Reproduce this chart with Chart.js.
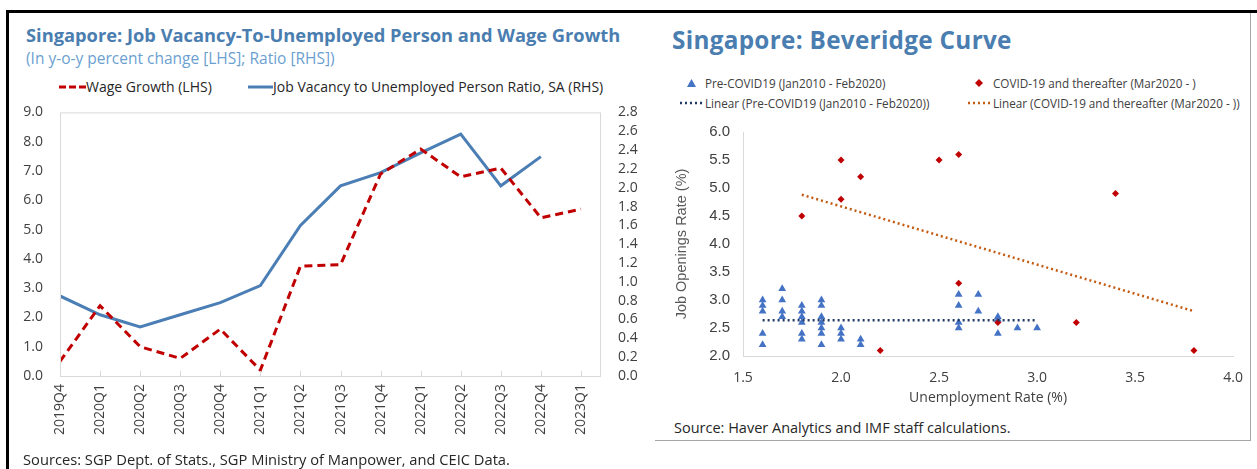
<!DOCTYPE html>
<html>
<head>
<meta charset="utf-8">
<script src="https://cdn.jsdelivr.net/npm/chart.js@4.4.1/dist/chart.umd.min.js"></script>
<style>
  html, body { margin: 0; padding: 0; background: #fff; }
  #page { position: relative; width: 1257px; height: 469px; overflow: hidden; font-family: "Open Sans", sans-serif; color: #404040; }
  .abs { position: absolute; white-space: nowrap; }
  .title { font-weight: 700; color: #4a7db0; }
  .sub { color: #6b9fd1; font-size: 15.5px; }
  .leg { font-size: 14px; line-height: 18px; color: #262626; }
  .leg2 { font-size: 11.7px; line-height: 14px; color: #404040; }
  .src { font-size: 14.7px; line-height: 18px; color: #262626; }
  .frame { position: absolute; background: #000; }
</style>
</head>
<body>
<div id="page">
  <!-- outer frame lines -->
  <div class="frame" style="left:6px; top:10px; width:1251px; height:3px;"></div>
  <div class="frame" style="left:6px; top:10px; width:3px; height:459px;"></div>
  <div class="frame" style="left:1250px; top:13px; width:1px; height:428px; background:#a6a6a6;"></div>
  <div class="frame" style="left:655px; top:440px; width:596px; height:1px; background:#a6a6a6;"></div>

  <!-- left panel text -->
  <div class="abs title" style="left:26px; top:22px; font-size:18.3px; line-height:26px;">Singapore: Job Vacancy-To-Unemployed Person and Wage Growth</div>
  <div class="abs sub" style="left:26px; top:47px; line-height:22px;">(In y-o-y percent change [LHS]; Ratio [RHS])</div>

  <svg class="abs" style="left:59px; top:85px;" width="28" height="4"><line x1="0" y1="2" x2="28" y2="2" stroke="#c00000" stroke-width="3" stroke-dasharray="7 3"/></svg>
  <div class="abs leg" style="left:86px; top:78px;">Wage Growth (LHS)</div>
  <svg class="abs" style="left:248px; top:85px;" width="25" height="4"><line x1="0" y1="2" x2="25" y2="2" stroke="#4a7eb4" stroke-width="3"/></svg>
  <div class="abs leg" style="left:273px; top:78px;">Job Vacancy to Unemployed Person Ratio, SA (RHS)</div>

  <div class="abs" style="left:0; top:87px; width:650px; height:364px;"><canvas id="left"></canvas></div>
  <div class="abs src" style="left:23px; top:450px;">Sources: SGP Dept. of Stats., SGP Ministry of Manpower, and CEIC Data.</div>

  <!-- right panel text -->
  <div class="abs title" style="left:672px; top:23px; font-size:24.3px; line-height:34px; letter-spacing:0.3px;">Singapore: Beveridge Curve</div>

  <svg class="abs" style="left:687px; top:79px;" width="9" height="8"><polygon points="4.5,0 9,8 0,8" fill="#4472c4"/></svg>
  <div class="abs leg2" style="left:705px; top:76px;">Pre-COVID19 (Jan2010 - Feb2020)</div>
  <svg class="abs" style="left:975px; top:79px;" width="8" height="8"><polygon points="4,0 8,4 4,8 0,4" fill="#c00000"/></svg>
  <div class="abs leg2" style="left:993px; top:76px;">COVID-19 and thereafter (Mar2020 - )</div>
  <svg class="abs" style="left:679px; top:101px;" width="25" height="4"><line x1="1" y1="2" x2="25" y2="2" stroke="#1f3864" stroke-width="2.5" stroke-dasharray="2 3"/></svg>
  <div class="abs leg2" style="left:705px; top:96px;">Linear (Pre-COVID19 (Jan2010 - Feb2020))</div>
  <svg class="abs" style="left:967px; top:101px;" width="25" height="4"><line x1="1" y1="2" x2="25" y2="2" stroke="#c55a11" stroke-width="2.5" stroke-dasharray="2 3"/></svg>
  <div class="abs leg2" style="left:993px; top:96px;">Linear (COVID-19 and thereafter (Mar2020 - ))</div>

  <div class="abs" style="left:650px; top:110px; width:607px; height:306px;"><canvas id="right"></canvas></div>
  <div class="abs src" style="left:674px; top:419px; font-size:14.5px;">Source: Haver Analytics and IMF staff calculations.</div>
</div>

<script>
// ---------- data: left chart (quarterly) ----------
const periods = ["2019Q4", "2020Q1", "2020Q2", "2020Q3", "2020Q4", "2021Q1", "2021Q2",
  "2021Q3", "2021Q4", "2022Q1", "2022Q2", "2022Q3", "2022Q4", "2023Q1"];
// wage growth, y-o-y % (LHS)
const wageGrowth = [0.5, 2.4, 1.0, 0.6, 1.6, 0.2, 3.75, 3.8, 6.9, 7.75, 6.8, 7.1, 5.4, 5.7];
// job vacancy to unemployed person ratio, SA (RHS) — no 2023Q1 value
const vacancyRatio = [0.85, 0.65, 0.52, 0.65, 0.78, 0.96, 1.6, 2.02, 2.16, 2.37, 2.57, 2.02, 2.33, null];
const lhsTicks = [0, 1, 2, 3, 4, 5, 6, 7, 8, 9];
const rhsTicks = [0, 0.2, 0.4, 0.6, 0.8, 1.0, 1.2, 1.4, 1.6, 1.8, 2.0, 2.2, 2.4, 2.6, 2.8];

// ---------- data: right chart (Beveridge curve) ----------
// unemployment rate (x) / job openings rate (y)
const preX = [1.6, 1.6, 1.6, 1.6, 1.6, 1.7, 1.7, 1.7, 1.7, 1.8, 1.8, 1.8, 1.8, 1.8, 1.8,
  1.9, 1.9, 1.9, 1.9, 1.9, 1.9, 1.9, 2.0, 2.0, 2.0, 2.1, 2.1, 2.6, 2.6, 2.6, 2.6, 2.7, 2.7,
  2.8, 2.8, 2.8, 2.9, 3.0];
const preY = [3.0, 2.9, 2.8, 2.4, 2.2, 3.2, 3.0, 2.8, 2.7, 2.9, 2.8, 2.7, 2.6, 2.4, 2.3,
  3.0, 2.9, 2.7, 2.6, 2.5, 2.4, 2.2, 2.5, 2.4, 2.3, 2.3, 2.2, 3.1, 2.9, 2.6, 2.5, 3.1, 2.8,
  2.7, 2.65, 2.4, 2.5, 2.5];
const covidX = [1.8, 2.0, 2.0, 2.1, 2.2, 2.5, 2.6, 2.6, 2.8, 3.2, 3.4, 3.8];
const covidY = [4.5, 5.5, 4.8, 5.2, 2.1, 5.5, 5.6, 3.3, 2.6, 2.6, 4.9, 2.1];
// linear trend end points as drawn in the report
const trendPreX = [1.6, 3.0];
const trendPreY = [2.64, 2.64];
const trendCovidX = [1.8, 3.8];
const trendCovidY = [4.88, 2.8];
const uxTicks = [1.5, 2.0, 2.5, 3.0, 3.5, 4.0];
const joTicks = [2.0, 2.5, 3.0, 3.5, 4.0, 4.5, 5.0, 5.5, 6.0];

// ---------- helpers ----------
const pts = (xs, ys) => xs.map((x, i) => ({ x: x, y: ys[i] }));
const fixedTicks = (list) => (scale) => { scale.ticks = list.map((v) => ({ value: v })); };
const TXT = "#404040";
const noGrid = { display: false, drawTicks: false };

// light grey box round the plot + small inward ticks on the category axis
const plotBox = {
  id: "plotBox",
  afterDraw(chart) {
    const { ctx, chartArea: a } = chart;
    ctx.save();
    ctx.strokeStyle = "#d9d9d9";
    ctx.lineWidth = 1;
    ctx.strokeRect(a.left + 0.5, a.top + 0.5, a.right - a.left - 1, a.bottom - a.top);
    const xs = chart.scales.x;
    ctx.beginPath();
    periods.forEach((_, i) => {
      const px = Math.round(xs.getPixelForValue(i)) + 0.5;
      ctx.moveTo(px, a.bottom - 5);
      ctx.lineTo(px, a.bottom);
    });
    ctx.stroke();
    ctx.restore();
  },
};

Chart.defaults.font.family = "'Open Sans', sans-serif";
Chart.defaults.animation = false;

// ---------- left: wage growth vs vacancy ratio ----------
new Chart(document.getElementById("left"), {
  type: "line",
  data: {
    datasets: [
      {
        label: "Wage Growth (LHS)",
        data: pts(periods.map((_, i) => i), wageGrowth),
        yAxisID: "yL",
        borderColor: "#c00000",
        borderWidth: 3,
        borderDash: [8, 5],
        pointRadius: 0,
      },
      {
        label: "Job Vacancy to Unemployed Person Ratio, SA (RHS)",
        data: pts(periods.map((_, i) => i), vacancyRatio),
        yAxisID: "yR",
        borderColor: "#4a7eb4",
        borderWidth: 3,
        pointRadius: 0,
      },
    ],
  },
  options: {
    responsive: true,
    maintainAspectRatio: false,
    layout: { padding: { top: 10 } },
    plugins: { legend: { display: false }, tooltip: { enabled: false } },
    scales: {
      x: {
        type: "linear",
        min: 0,
        max: 13.5,
        afterBuildTicks: fixedTicks(periods.map((_, i) => i)),
        afterFit: (s) => { s.height = 75; },
        grid: noGrid,
        border: { display: false },
        ticks: {
          autoSkip: false,
          maxRotation: 90,
          minRotation: 90,
          padding: 8,
          color: TXT,
          font: { size: 14 },
          callback: (v) => periods[v],
        },
      },
      yL: {
        position: "left",
        min: 0,
        max: 9,
        afterBuildTicks: fixedTicks(lhsTicks),
        afterFit: (s) => { s.width = 60; },
        grid: noGrid,
        border: { display: false },
        ticks: { padding: 17, color: TXT, font: { size: 14 }, callback: (v) => v.toFixed(1) },
      },
      yR: {
        position: "right",
        min: 0,
        max: 2.8,
        afterBuildTicks: fixedTicks(rhsTicks),
        afterFit: (s) => { s.width = 49; },
        grid: noGrid,
        border: { display: false },
        ticks: { autoSkip: false, padding: 17, color: TXT, font: { size: 14 }, callback: (v) => v.toFixed(1) },
      },
    },
  },
  plugins: [plotBox],
});

// ---------- right: Beveridge curve ----------
new Chart(document.getElementById("right"), {
  type: "scatter",
  data: {
    datasets: [
      // trend lines first so they sit on top of the markers
      {
        type: "line",
        label: "Linear (Pre-COVID19 (Jan2010 - Feb2020))",
        data: pts(trendPreX, trendPreY),
        borderColor: "#1f3864",
        borderWidth: 2.5,
        borderDash: [2, 3],
        pointRadius: 0,
      },
      {
        type: "line",
        label: "Linear (COVID-19 and thereafter (Mar2020 - ))",
        data: pts(trendCovidX, trendCovidY),
        borderColor: "#c55a11",
        borderWidth: 2.5,
        borderDash: [2, 3],
        pointRadius: 0,
      },
      {
        label: "COVID-19 and thereafter (Mar2020 - )",
        data: pts(covidX, covidY),
        pointStyle: "rectRot",
        pointRadius: 3.5,
        backgroundColor: "#c00000",
        borderColor: "#c00000",
        borderWidth: 0,
      },
      {
        label: "Pre-COVID19 (Jan2010 - Feb2020)",
        data: pts(preX, preY),
        pointStyle: "triangle",
        pointRadius: 4.5,
        backgroundColor: "#4472c4",
        borderColor: "#4472c4",
        borderWidth: 0,
      },
    ],
  },
  options: {
    responsive: true,
    maintainAspectRatio: false,
    layout: { padding: { top: 16, right: 19 } },
    plugins: { legend: { display: false }, tooltip: { enabled: false } },
    scales: {
      x: {
        type: "linear",
        min: 1.5,
        max: 4.0,
        afterBuildTicks: fixedTicks(uxTicks),
        afterFit: (s) => { s.height = 60; },
        grid: noGrid,
        border: { color: "#d9d9d9" },
        ticks: { padding: 14, color: TXT, font: { size: 14 }, callback: (v) => v.toFixed(1) },
        title: {
          display: true,
          text: "Unemployment Rate (%)",
          color: TXT,
          font: { size: 14 },
          padding: { top: 0, bottom: 10 },
        },
      },
      y: {
        min: 2.0,
        max: 6.0,
        afterBuildTicks: fixedTicks(joTicks),
        afterFit: (s) => { s.width = 93; },
        grid: noGrid,
        border: { color: "#d9d9d9" },
        ticks: {
          padding: 13,
          color: TXT,
          font: { family: "'Liberation Sans', Arial, sans-serif", size: 15 },
          callback: (v) => v.toFixed(1),
        },
        title: {
          display: true,
          text: "Job Openings Rate (%)",
          color: "#595959",
          font: { family: "'Liberation Sans', Arial, sans-serif", size: 14.5 },
          padding: { top: 23, bottom: 0 },
        },
      },
    },
  },
});
</script>
</body>
</html>
